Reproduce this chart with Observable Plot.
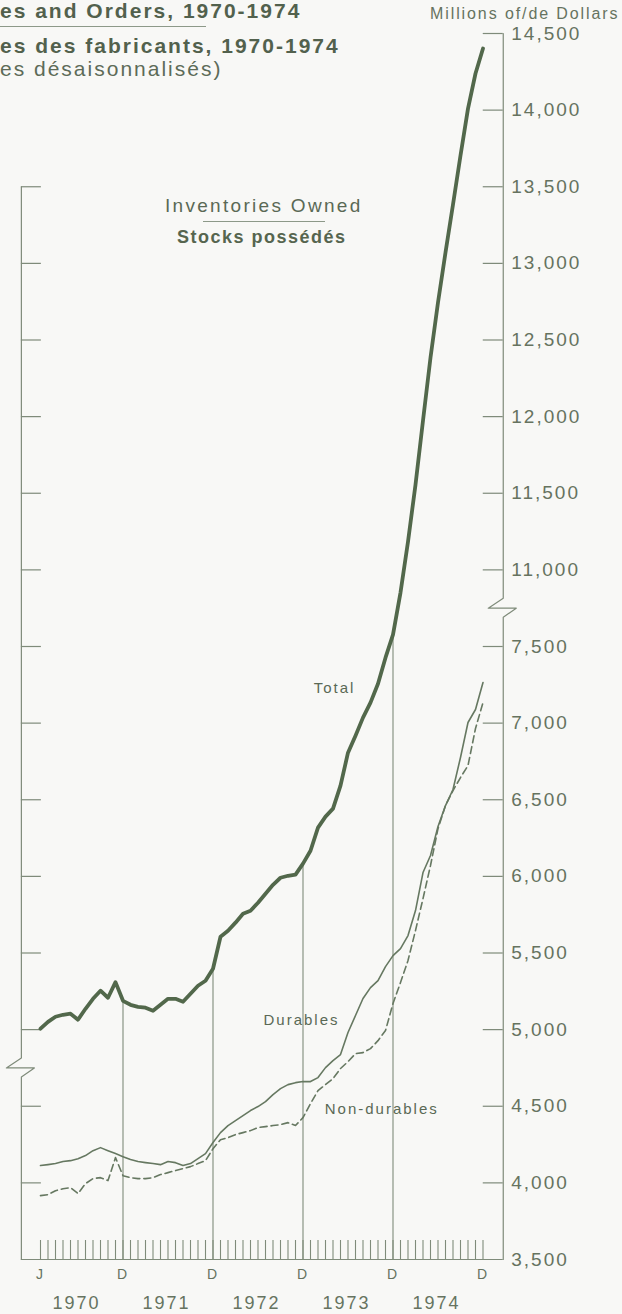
<!DOCTYPE html>
<html>
<head>
<meta charset="utf-8">
<script src="https://cdn.jsdelivr.net/npm/d3@7"></script>
<script src="https://cdn.jsdelivr.net/npm/@observablehq/plot@0.6"></script>
<style>
  html, body { margin: 0; padding: 0; background: #f8f8f6; }
  #wrap { position: relative; width: 622px; height: 1314px; overflow: hidden;
          font-family: "Liberation Sans", Arial, sans-serif; color: #52614d; }
  #chart { position: absolute; left: 0; top: 0; }
  .t { position: absolute; white-space: nowrap; line-height: 22px; }
  svg text { letter-spacing: 2px; }
</style>
</head>
<body>
<div id="wrap">
  <div id="chart"></div>
  <div class="t" style="left:0;top:0;font-size:21px;font-weight:bold;letter-spacing:2px;">es and Orders, 1970-1974</div>
  <div style="position:absolute;left:0;top:26px;width:206px;border-top:1px solid #8d9989;"></div>
  <div class="t" style="left:0;top:35px;font-size:21px;font-weight:bold;letter-spacing:2px;">es des fabricants, 1970-1974</div>
  <div class="t" style="left:0;top:58px;font-size:21px;letter-spacing:2px;color:#5d6b58;">es désaisonnalisés)</div>
  <div class="t" style="left:430px;top:3px;font-size:16px;letter-spacing:1.9px;color:#66735f;">Millions of/de Dollars</div>
  <div class="t" style="left:165px;top:195px;font-size:19px;letter-spacing:2.3px;color:#5a6955;">Inventories Owned</div>
  <div style="position:absolute;left:203px;top:221px;width:122px;border-top:1px solid #8d9989;"></div>
  <div class="t" style="left:177px;top:226px;font-size:18px;font-weight:bold;letter-spacing:1.5px;color:#56654f;">Stocks possédés</div>
</div>
<script>
// ---- Data (millions of dollars, seasonally adjusted), Jan 1970 .. Dec 1974 ----
const total = [
  8006, 8051, 8084, 8097, 8104, 8065, 8136, 8201, 8254, 8208, 8310, 8188,
  8162, 8149, 8143, 8123, 8162, 8201, 8201, 8182, 8234, 8286, 8319, 8397,
  8606, 8645, 8698, 8756, 8776, 8828, 8887, 8945, 8991, 9004, 9011, 9083,
  9167, 9318, 9390, 9442, 9592, 9807, 9918, 10036, 10134, 10257, 10427, 10577,
  10852, 11184, 11556, 11974, 12385, 12744, 13071, 13384, 13704, 14010, 14239, 14402
];
const durables = [
  4113, 4119, 4126, 4139, 4145, 4158, 4178, 4210, 4230, 4210, 4191, 4171,
  4152, 4139, 4132, 4126, 4119, 4139, 4132, 4113, 4126, 4158, 4191, 4263,
  4328, 4374, 4406, 4439, 4472, 4498, 4530, 4576, 4615, 4641, 4654, 4661,
  4661, 4687, 4752, 4798, 4837, 4981, 5092, 5203, 5274, 5320, 5411, 5483,
  5529, 5614, 5777, 6025, 6136, 6325, 6462, 6567, 6776, 7004, 7089, 7265
];
const nonDurables = [
  3917, 3923, 3949, 3962, 3969, 3930, 3995, 4028, 4034, 4015, 4165, 4047,
  4034, 4028, 4028, 4034, 4054, 4067, 4080, 4093, 4106, 4126, 4145, 4223,
  4282, 4295, 4315, 4328, 4341, 4361, 4367, 4374, 4380, 4393, 4374, 4426,
  4517, 4602, 4641, 4680, 4746, 4791, 4843, 4850, 4876, 4928, 4994, 5170,
  5307, 5451, 5647, 5855, 6071, 6312, 6462, 6560, 6645, 6723, 6965, 7134
];
const years = ["1970", "1971", "1972", "1973", "1974"];
const monthTickText = ["J", "D", "D", "D", "D", "D"];
const monthTickAt = [0, 11, 23, 35, 47, 59];
const rightUpperTicks = [11000, 11500, 12000, 12500, 13000, 13500, 14000, 14500];
const rightLowerTicks = [3500, 4000, 4500, 5000, 5500, 6000, 6500, 7000, 7500];
const leftTicks = [7000, 7500, 8000, 8500, 9000, 9500, 10000, 10500, 11000, 11500, 12000, 12500, 13000, 13500];
const seriesLabels = [
  {text: "Total", m: 39.2, v: 10225},
  {text: "Durables", m: 34.8, v: 8064},
  {text: "Non-durables", m: 45.5, v: 7484}
];

// ---- Layout constants ----
const COMPONENT_OFFSET = 3000;          // components drawn on the lower (3,500–7,500) scale
const X_DOMAIN = [0, 59], X_RANGE = [40, 482.5];
const Y_DOMAIN = [6500, 14500], Y_RANGE = [1259, 33];
const pxPerMonth = (X_RANGE[1] - X_RANGE[0]) / (X_DOMAIN[1] - X_DOMAIN[0]);
const pxPerUnit = (Y_RANGE[0] - Y_RANGE[1]) / (Y_DOMAIN[1] - Y_DOMAIN[0]);
const mo = px => px / pxPerMonth;
const un = px => px / pxPerUnit;
const leftAxisM = -2.55, rightAxisM = 61.7;
const BOTTOM = Y_DOMAIN[0];
const axisColor = "#7f8b7a", textColor = "#66735f";
const lineColor = "#52684b", compColor = "#667861";

const months = d3.range(total.length);
const totalData = months.map(m => ({m, v: total[m]}));
const durData = months.map(m => ({m, v: durables[m] + COMPONENT_OFFSET}));
const nonDurData = months.map(m => ({m, v: nonDurables[m] + COMPONENT_OFFSET}));
const decembers = months.filter(m => m % 12 === 11 && m < 59);

function axisPath(xm, top, bottom, brk) {
  return [
    {x: xm, y: top}, {x: xm, y: brk + un(10)}, {x: xm - mo(15), y: brk},
    {x: xm + mo(13), y: brk}, {x: xm, y: brk - un(9)}, {x: xm, y: bottom}
  ];
}
const rightLabels = [
  ...rightUpperTicks.map(v => ({y: v, label: d3.format(",")(v)})),
  ...rightLowerTicks.map(v => ({y: v + COMPONENT_OFFSET, label: d3.format(",")(v)}))
];
const rightTickYs = rightLabels.map(d => d.y).filter(y => y > BOTTOM);

const chart = Plot.plot({
  width: 622, height: 1314,
  marginTop: 0, marginBottom: 0, marginLeft: 0, marginRight: 0,
  x: {type: "linear", domain: X_DOMAIN, range: X_RANGE, axis: null},
  y: {type: "linear", domain: Y_DOMAIN, range: Y_RANGE, axis: null},
  style: {background: "transparent", fontFamily: "'Liberation Sans', Arial, sans-serif"},
  marks: [
    Plot.ruleY([BOTTOM], {x1: leftAxisM, x2: rightAxisM, stroke: axisColor, strokeWidth: 1.2}),
    Plot.line(axisPath(rightAxisM, 14500, BOTTOM, 10750), {x: "x", y: "y", stroke: axisColor, strokeWidth: 1.2, curve: "linear"}),
    Plot.line(axisPath(leftAxisM, 13500, BOTTOM, 7750), {x: "x", y: "y", stroke: axisColor, strokeWidth: 1.2, curve: "linear"}),
    Plot.ruleY(rightTickYs, {x1: rightAxisM - mo(20), x2: rightAxisM, stroke: axisColor, strokeWidth: 1.2}),
    Plot.ruleY(leftTicks, {x1: leftAxisM, x2: leftAxisM + mo(20), stroke: axisColor, strokeWidth: 1.2}),
    Plot.text(rightLabels, {x: () => rightAxisM, y: "y", text: "label", dx: 8, textAnchor: "start", fontSize: 19, fill: textColor}),
    Plot.ruleX(months, {x: d => d, y1: BOTTOM, y2: BOTTOM + un(19), stroke: axisColor, strokeWidth: 1.1}),
    Plot.ruleX(decembers, {x: d => d, y1: BOTTOM, y2: d => total[d], stroke: axisColor, strokeWidth: 1.1}),
    Plot.line(nonDurData, {x: "m", y: "v", stroke: compColor, strokeWidth: 1.6, strokeDasharray: "7,4"}),
    Plot.line(durData, {x: "m", y: "v", stroke: compColor, strokeWidth: 1.6}),
    Plot.line(totalData, {x: "m", y: "v", stroke: lineColor, strokeWidth: 3.8, strokeLinejoin: "round"}),
    Plot.text(seriesLabels, {x: "m", y: "v", text: "text", fontSize: 15, fill: "#5a6955"}),
    Plot.text(monthTickAt, {x: d => d, y: () => BOTTOM, text: (d, i) => monthTickText[i], dy: 15, fontSize: 14, fill: textColor}),
    Plot.text(years, {x: (d, i) => 12 * i + 4.8, y: () => BOTTOM, text: d => d, dy: 44, fontSize: 18, fill: textColor})
  ]
});
document.getElementById("chart").appendChild(chart);
</script>
</body>
</html>
